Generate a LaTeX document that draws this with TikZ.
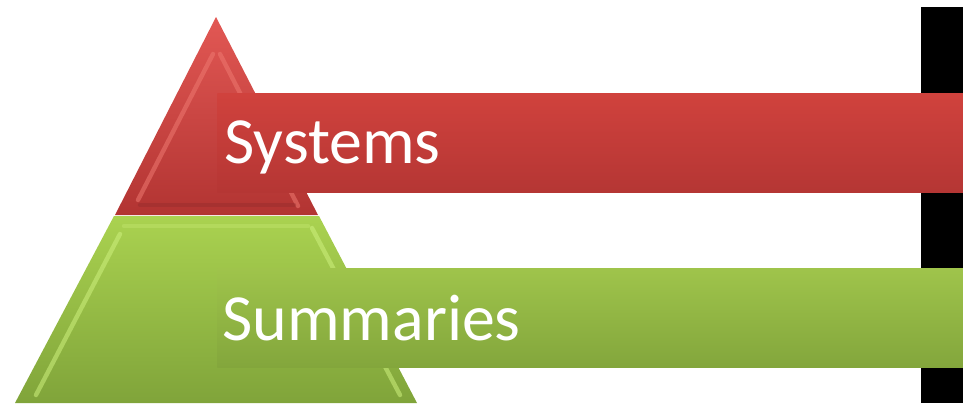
\documentclass[tikz,border=0pt]{standalone}
\usepackage{fontspec}
\setmainfont{Carlito}
\definecolor{barRedTop}{RGB}{208,66,61}
\definecolor{barRedBot}{RGB}{181,54,52}
\definecolor{barGreenTop}{RGB}{159,196,75}
\definecolor{barGreenBot}{RGB}{131,166,60}
\definecolor{triRedTop}{RGB}{226,88,84}
\definecolor{triRedBot}{RGB}{178,52,50}
\definecolor{triGreenTop}{RGB}{170,210,80}
\definecolor{triGreenBot}{RGB}{128,164,58}
\definecolor{bevRed}{RGB}{238,120,112}
\definecolor{bevGreen}{RGB}{205,240,125}

\tikzset{
  bar/.style={rectangle, inner sep=0pt, minimum width=149.2mm, minimum height=19.8mm},
  redbar/.style={bar, top color=barRedTop, bottom color=barRedBot},
  greenbar/.style={bar, top color=barGreenTop, bottom color=barGreenBot},
  bartext/.style={text=white, inner sep=0pt, font=\fontsize{37.5}{42}\selectfont},
  bevel/.style={line width=2.5pt, line cap=round, opacity=0.55}
}

\begin{document}
\begin{tikzpicture}[x=0.2mm, y=-0.2mm]

  \useasboundingbox (0,0) rectangle (963,403);

  % black strip on the right
  \fill[black] (921,7) rectangle (963,403);

  % top of the pyramid
  \shade[top color=triRedTop, bottom color=triRedBot]
    (216,17) -- (318,215) -- (115,215) -- cycle;
  \draw[bevel, bevRed] (213,54) -- (138,200);
  \draw[bevel, bevRed] (220,54) -- (298,206);
  \draw[bevel, barRedBot!80!black, opacity=0.4] (140,205) -- (294,205);

  % base of the pyramid
  \shade[top color=triGreenTop, bottom color=triGreenBot]
    (114,216) -- (319,216) -- (417,403) -- (15,403) -- cycle;
  \draw[bevel, bevGreen] (120,234) -- (36,395);
  \draw[bevel, bevGreen] (312,228) -- (400,395);
  \draw[bevel, bevGreen, opacity=0.3] (124,226) -- (308,226);

  % bars
  \node[redbar, anchor=north west] (sysbar) at (217,93) {};
  \node[greenbar, anchor=north west] (sumbar) at (217,268) {};

  % labels
  \node[bartext, anchor=base west] (systxt) at (224,163) {Systems};
  \node[bartext, anchor=base west] (sumtxt) at (222,340) {Summaries};

\end{tikzpicture}
\end{document}
